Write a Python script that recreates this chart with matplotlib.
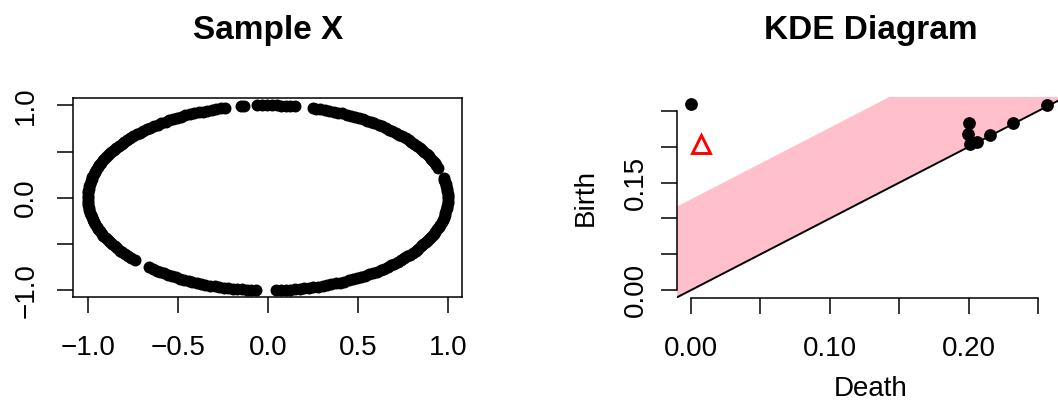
#!/usr/bin/env python3
"""
Sample X / KDE Diagram, redrawn with matplotlib (R base graphics look).
"""

import numpy as np
import matplotlib
matplotlib.use('Agg')
import matplotlib.pyplot as plt

# Sample X: angles (degrees) of the points on the unit circle
ARC_A = [-87.3, -85.8, -84.2, -82.9, -81.3, -79.8, -78.4, -76.7, -75.3, -73.9,
         -72.2, -70.8, -69.3, -67.7, -66.4, -64.8, -63.2, -61.9, -60.3, -58.8,
         -57.4, -55.7, -54.3, -52.8, -51.2, -49.9, -48.3, -46.8, -45.4, -43.7,
         -42.3, -40.8, -39.2, -37.9, -36.3, -34.8, -33.4, -31.7, -30.3, -28.8,
         -27.2, -25.9, -24.3, -22.8, -21.4, -19.7, -18.3, -16.8, -15.2, -13.9,
         -12.3, -10.8, -9.4, -7.7, -6.3, -4.8, -3.2, -1.9, -0.3, 1.2,
         2.6, 4.3, 5.7, 7.2, 8.8, 10.1, 11.4, 12.6]
ARC_B = [19.1, 20.6, 22.2, 23.5, 25.1, 26.6, 28.0, 29.7, 31.1, 32.6,
         34.2, 35.5, 37.1, 38.6, 40.0, 41.7, 43.1, 44.6, 46.2, 47.5,
         49.1, 50.6, 52.0, 53.7, 55.1, 56.6, 58.2, 59.5, 61.1, 62.6,
         64.0, 65.7, 67.1, 68.6, 70.2, 71.5, 73.1, 74.4, 75.5]
ARC_C = [81.3, 82.8, 84.3, 85.7, 87.2, 88.8, 90.3, 91.9, 93.4]
ARC_D = [97.5, 98.7]
ARC_E = [103.7, 105.2, 106.8, 108.1, 109.7, 111.2, 112.6, 114.3, 115.7, 117.2,
         118.8, 120.1, 121.7, 123.2, 124.6, 126.3, 127.7, 129.2, 130.8, 132.1,
         133.7, 135.2, 136.6, 138.3, 139.7, 141.2, 142.8, 144.1, 145.7, 147.2,
         148.6, 150.3, 151.7, 153.2, 154.8, 156.1, 157.7, 159.2, 160.6, 162.3,
         163.7, 165.2, 166.8, 168.1, 169.7, 171.2, 172.6, 174.3, 175.7, 177.2,
         178.8, 180.1, 181.7, 183.2, 184.6, 186.3, 187.7, 189.2, 190.8, 192.1,
         193.7, 195.2, 196.6, 198.3, 199.7, 201.2, 202.8, 204.1, 205.7, 207.2,
         208.6, 210.3, 211.7, 213.2, 214.8, 216.1, 217.7, 219.2, 220.8, 222.4]
ARC_F = [228.8, 230.3, 231.9, 233.2, 234.8, 236.3, 237.7, 239.4, 240.8, 242.3,
         243.9, 245.2, 246.8, 248.3, 249.7, 251.4, 252.8, 254.3, 255.9, 257.2,
         258.8, 260.3, 261.7, 263.4, 264.8, 266.3]
SAMPLE_ANGLES = ARC_A + ARC_B + ARC_C + ARC_D + ARC_E + ARC_F

SAMPLE_TICKS = [-1.0, -0.5, 0.0, 0.5, 1.0]
SAMPLE_XLABELS = ['\u22121.0', '\u22120.5', '0.0', '0.5', '1.0']
SAMPLE_YLABELS = ['\u22121.0', '', '0.0', '', '1.0']

# KDE diagram: (death, birth) of the black points, one red triangle
DEATH = [0.000, 0.2000, 0.1995, 0.2010, 0.2055, 0.2155, 0.2316, 0.2560]
BIRTH = [0.2595, 0.2335, 0.2175, 0.2040, 0.2067, 0.2163, 0.2329, 0.2585]
TRI_DEATH = [0.0072]
TRI_BIRTH = [0.2035]
BAND = 0.1266

KDE_TICKS = [0.00, 0.05, 0.10, 0.15, 0.20, 0.25]
KDE_XLABELS = ['0.00', '', '0.10', '', '0.20', '']
KDE_YLABELS = ['0.00', '', '', '0.15', '', '']

W, H = 1058, 403


def style_axis(ax, ypad):
    ax.tick_params(direction='out', length=11.5, width=1.1, labelsize=20,
                   colors='black')
    ax.tick_params(axis='x', pad=16)
    ax.tick_params(axis='y', pad=ypad, labelrotation=90)
    for lab in ax.get_yticklabels():
        lab.set_va('center')
    for sp in ax.spines.values():
        sp.set_linewidth(1.1)


def main():
    plt.rcParams['font.family'] = ['Liberation Sans', 'DejaVu Sans']

    fig = plt.figure(figsize=(W / 100, H / 100), dpi=100)

    # Left: Sample X
    ax1 = fig.add_axes([73.3 / W, 1 - 297.3 / H, 389 / W, 199 / H])
    theta = np.deg2rad(SAMPLE_ANGLES)
    ax1.plot(np.cos(theta), np.sin(theta), 'o', color='black', ms=8.6, mew=0)
    ax1.set_xlim(-1.08, 1.08)
    ax1.set_ylim(-1.075, 1.075)
    ax1.set_xticks(SAMPLE_TICKS, SAMPLE_XLABELS)
    ax1.set_yticks(SAMPLE_TICKS, SAMPLE_YLABELS)
    style_axis(ax1, ypad=13)

    # Right: KDE Diagram
    ax2 = fig.add_axes([676.7 / W, 1 - 297.5 / H, 388 / W, 200.2 / H])
    xs = np.array([-1.0, 1.0])
    ax2.fill_between(xs, xs, xs + BAND, color='pink', lw=0, zorder=1)
    ax2.plot(xs, xs, color='black', lw=1.4, zorder=2)
    ax2.plot(DEATH, BIRTH, 'o', color='black', ms=9.2, mew=0, zorder=3)
    ax2.plot(TRI_DEATH, TRI_BIRTH, '^', mfc='none', mec='red', ms=12.5, mew=2.1,
             zorder=3)
    ax2.set_xlim(-0.0103, 0.2689)
    ax2.set_ylim(-0.0103, 0.2689)
    ax2.set_xticks(KDE_TICKS, KDE_XLABELS)
    ax2.set_yticks(KDE_TICKS, KDE_YLABELS)
    ax2.spines['top'].set_visible(False)
    ax2.spines['right'].set_visible(False)
    ax2.spines['left'].set_bounds(KDE_TICKS[0], KDE_TICKS[-1])
    ax2.spines['bottom'].set_bounds(KDE_TICKS[0], KDE_TICKS[-1])
    style_axis(ax2, ypad=8.6)
    ax2.set_xlabel('Death', fontsize=20)
    ax2.set_ylabel('Birth', fontsize=20)
    ax2.xaxis.set_label_coords(0.5, -0.39)
    ax2.yaxis.set_label_coords(-0.200, 0.5)

    # Titles
    fig.text(267.8 / W, 1 - 30 / H, 'Sample X', ha='center', va='center',
             fontsize=24, fontweight='bold')
    fig.text(870.7 / W, 1 - 30 / H, 'KDE Diagram', ha='center', va='center',
             fontsize=24, fontweight='bold')

    fig.savefig('out.png', dpi=100)
    plt.close(fig)


if __name__ == "__main__":
    main()
